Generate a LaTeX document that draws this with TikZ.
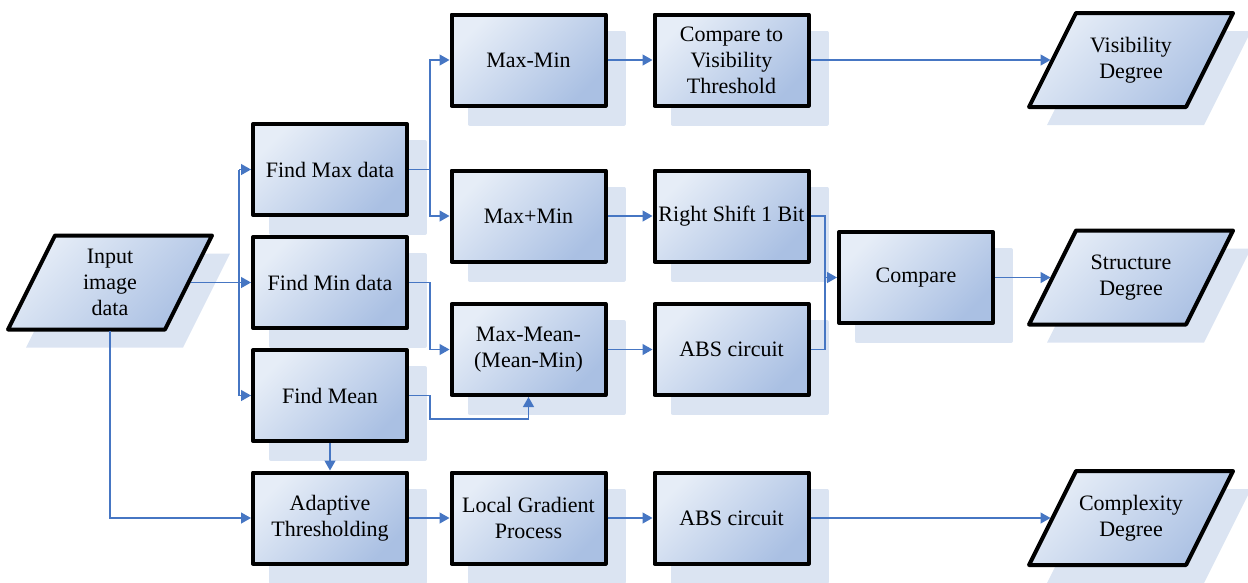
\documentclass[tikz,border=0pt]{standalone}
\usepackage{fontspec}
\setmainfont{Liberation Serif}
\usetikzlibrary{arrows.meta,shadows,calc}

\definecolor{boxlight}{RGB}{230,237,247}
\definecolor{boxmid}{RGB}{196,211,235}
\definecolor{boxdark}{RGB}{170,192,227}
\definecolor{shadowcol}{RGB}{219,228,242}
\definecolor{linkcol}{RGB}{70,118,195}

\tikzset{
  every node/.style={font=\fontsize{22}{26}\selectfont},
  procbox/.style={
    rectangle, draw=black, line width=4pt, line join=round,
    minimum width=154pt, minimum height=91pt, inner sep=2pt, align=center,
    top color=boxlight, middle color=boxmid, bottom color=boxdark, shading angle=45,
    general shadow={fill=shadowcol, draw=shadowcol, line width=4pt,
                    shadow xshift=18pt, shadow yshift=-18pt}
  },
  ioshape/.style={draw=black, line width=4pt, line join=round,
    top color=boxlight, middle color=boxmid, bottom color=boxdark, shading angle=45},
  iotext/.style={rectangle, minimum width=161pt, minimum height=96pt,
    inner sep=0pt, outer sep=0pt, align=center},
  link/.style={draw=linkcol, line width=1.3pt},
  conn/.style={link, -{Triangle[length=10pt,width=11pt]}}
}

% parallelogram (data) box: name, centre x, centre y, text
\newcommand\databox[4]{%
  \begin{scope}[shift={(#2,#3)}]
    \fill[shadowcol] (-55+18,-47+18) -- (102+18,-47+18) -- (55+18,47+18) -- (-102+18,47+18) -- cycle;
    \path[ioshape] (-55,-47) -- (102,-47) -- (55,47) -- (-102,47) -- cycle;
  \end{scope}
  \node[iotext] (#1) at (#2,#3) {#4};
}

\begin{document}
\begin{tikzpicture}[x=1pt,y=-1pt]
\useasboundingbox (0,0) rectangle (1248,582);

% data boxes
\databox{in}{110}{282.5}{Input\\image\\data}
\databox{vis}{1131}{60}{Visibility\\Degree}
\databox{str}{1131}{277.5}{Structure\\Degree}
\databox{cplx}{1131}{518}{Complexity\\Degree}

% process boxes, second column
\node[procbox] (fmax)  at (330,169.5) {Find Max data};
\node[procbox] (fmin)  at (330,282.5) {Find Min data};
\node[procbox] (fmean) at (330,395.5) {Find Mean};
\node[procbox] (adapt) at (330,518)   {Adaptive\\Thresholding};

% third column
\node[procbox] (maxmin)  at (528.5,60)    {Max-Min};
\node[procbox] (maxplus) at (528.5,216)   {Max+Min};
\node[procbox] (maxmean) at (528.5,349.5) {Max-Mean-\\(Mean-Min)};
\node[procbox] (lgrad)   at (528.5,518)   {Local Gradient\\Process};

% fourth column
\node[procbox] (cmpvis) at (731.5,60)    {Compare to\\Visibility\\Threshold};
\node[procbox] (rshift) at (731.5,216)   {Right Shift 1 Bit};
\node[procbox] (abs1)   at (731.5,349.5) {ABS circuit};
\node[procbox] (abs2)   at (731.5,518)   {ABS circuit};

\node[procbox] (cmp) at (916,277.5) {Compare};

% routing helpers
\coordinate (busx)   at (239,0);
\coordinate (splitx) at (430,0);
\coordinate (meanlow) at (430,419);
\coordinate (joinx)  at (825,0);

% input fan-out
\draw[conn] (in.east) -- (fmin.west);
\draw[link] (busx |- fmax.west) -- (busx |- fmean.west);
\draw[conn] (busx |- fmax.west) -- (fmax.west);
\draw[conn] (busx |- fmean.west) -- (fmean.west);
\draw[conn] (in.south) |- (adapt.west);

% max / min / mean combinations
\draw[conn] (fmax.east) -- (splitx |- fmax.east) |- (maxmin.west);
\draw[conn] (splitx |- fmax.east) |- (maxplus.west);
\draw[conn] (fmin.east) -- (splitx |- fmin.east) |- (maxmean.west);
\draw[conn] (fmean.east) -- (splitx |- fmean.east) -- (meanlow) -| (maxmean.south);
\draw[conn] (fmean.south) -- (adapt.north);

% visibility path
\draw[conn] (maxmin.east) -- (cmpvis.west);
\draw[conn] (cmpvis.east) -- (vis.west);

% structure path
\draw[conn] (maxplus.east) -- (rshift.west);
\draw[conn] (maxmean.east) -- (abs1.west);
\draw[link] (rshift.east) -| (joinx |- cmp.west);
\draw[link] (abs1.east) -| (joinx |- cmp.west);
\draw[conn] (joinx |- cmp.west) -- (cmp.west);
\draw[conn] (cmp.east) -- (str.west);

% complexity path
\draw[conn] (adapt.east) -- (lgrad.west);
\draw[conn] (lgrad.east) -- (abs2.west);
\draw[conn] (abs2.east) -- (cplx.west);
\end{tikzpicture}
\end{document}
